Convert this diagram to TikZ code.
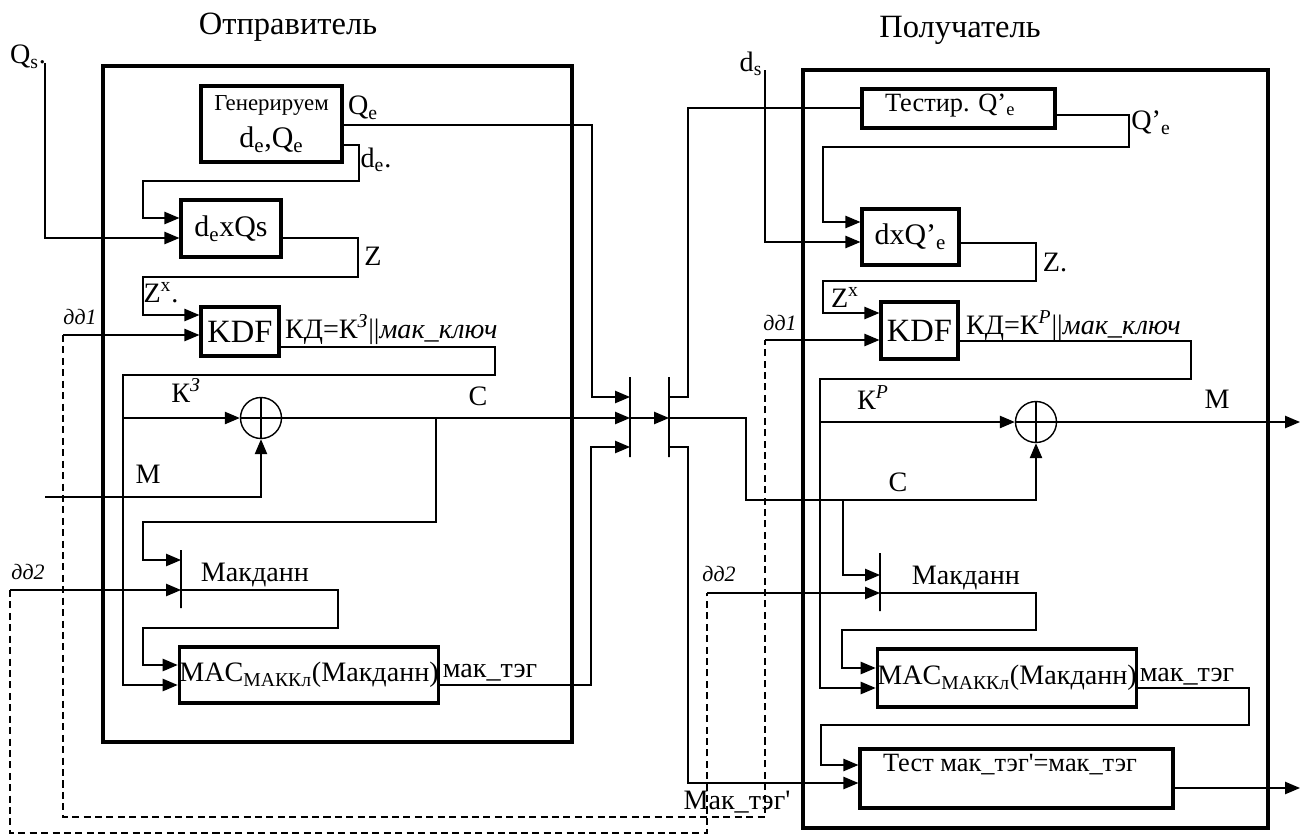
\documentclass[tikz,border=0pt]{standalone}
\usepackage{fontspec}
\setmainfont{Liberation Serif}
\usetikzlibrary{arrows.meta,calc}
\newcommand\fsb{\fontsize{17}{20}\selectfont}
\newcommand\fsl{\fontsize{16}{19}\selectfont}
\newcommand\fst{\fontsize{18.5}{22}\selectfont}
\tikzset{blk/.style={draw,line width=1.8pt,inner sep=0pt,font=\fsb},
 kd/.style={font=\fontsize{18.5}{22}\selectfont},mac/.style={font=\fsl},tx/.style={font=\fontsize{15}{18}\selectfont},
 it/.style={font=\fontsize{12.5}{15}\selectfont\itshape},
 wire/.style={line width=.8pt},arr/.style={wire,-{Triangle[length=8.5pt,width=7pt]}},
 dsh/.style={line width=.8pt,dash pattern=on 4pt off 2.5pt},outer/.style={line width=2pt},
 bar/.style={draw,line width=.9pt,inner sep=0pt,minimum width=0pt,minimum height=16mm},
 xor/.style={circle,draw,line width=.8pt,minimum size=8.2mm,inner sep=0pt,
  path picture={\draw[line width=.8pt] (path picture bounding box.north)--(path picture bounding box.south)
  (path picture bounding box.west)--(path picture bounding box.east);}},
 every node/.style={font=\fsl,inner sep=1pt}}
\begin{document}
\begin{tikzpicture}[x=.2mm,y=-.2mm]
\useasboundingbox (0,0) rectangle (1303,835);
\draw[outer] (103,66) rectangle (572,742);
\draw[outer] (803,70) rectangle (1268,828);
\node (tsnd) at (288,27) {\fst Отправитель};
\node (trcv) at (960,30) {\fst Получатель};
\coordinate (qs) at (45,63);\coordinate (min) at (45,497);\coordinate (dd1) at (63,335);\coordinate (dd2) at (10,590);
\coordinate (ds) at (765,70);\coordinate (dd1r) at (765,340);\coordinate (dd2r) at (707,593);
\coordinate (mout) at (1300,422);\coordinate (vout) at (1300,788);
\node[blk,minimum width=28.2mm,minimum height=15.2mm,align=center] (gen) at (271.5,124) {{\fontsize{13}{15}\selectfont Генерируем}\\[1pt]d\textsubscript{e},Q\textsubscript{e}};
\node[blk,minimum width=20mm,minimum height=11.4mm] (dexq) at (231,228.5) {d\textsubscript{e}xQs};
\node[blk,kd,minimum width=15.6mm,minimum height=9.8mm] (kdfL) at (240,331.5) {KDF};
\node[xor] (xorL) at (261,418) {};
\node[bar,minimum height=11.6mm] (mdL) at (181,579) {};
\node[blk,mac,minimum width=51.2mm,minimum height=11.2mm] (macL) at (309,675) {MAC\textsubscript{МАККл}(Макданн)};
\node[bar] (bar1) at (630,417) {};
\node[bar] (bar2) at (669,417) {};
\node[blk,minimum width=38.6mm,minimum height=7.8mm] (tst) at (958.5,108.5) {};
\node[anchor=west,tx] (tstt) at (883,106) {Тестир. Q’\textsubscript{e}};
\node[blk,minimum width=19.4mm,minimum height=11.2mm] (dxq) at (910.5,237) {dxQ’\textsubscript{e}};
\node[blk,kd,minimum width=15.4mm,minimum height=11.4mm] (kdfR) at (919.5,330.5) {KDF};
\node[xor] (xorR) at (1036,422) {};
\node[bar,minimum height=11.6mm] (mdR) at (880,582) {};
\node[blk,mac,minimum width=50.8mm,minimum height=11.6mm] (macR) at (1007,678) {MAC\textsubscript{МАККл}(Макданн)};
\node[blk,minimum width=62.6mm,minimum height=11.8mm] (tmt) at (1016.5,778.5) {};
\node[anchor=west,tx] (tmtt) at (881,765) {Тест мак\_тэг\textquotesingle=мак\_тэг};
\draw[arr] (qs) |- (dexq.west |- 0,238);
\draw[arr] (gen.east |- 0,125) -- (592,125) -- (592,397) -- (bar1 |- 0,397);
\draw[arr] (gen.east |- 0,145) -- (359,145) -- (359,181) -- (143,181) -- (143,218) -- (dexq.west |- 0,218);
\draw[arr] (dexq.east |- 0,238) -- (358,238) -- (358,277) -- (143,277) -- (143,315) -- (kdfL.west |- 0,315);
\draw[arr] (dd1) -- (kdfL.west |- 0,335);
\draw[arr] (kdfL.east |- 0,347) -- (495,347) -- (495,375) -- (123,375) -- (123,685) -- (macL.west |- 0,685);
\draw[arr] (123,418) -- (xorL.west);
\draw[arr] (min) -| (xorL.south);
\draw[arr] (xorL.east) -- (bar1 |- 0,418);
\draw[arr] (436,418) -- (436,522) -- (143,522) -- (143,560) -- (mdL |- 0,560);
\draw[arr] (dd2) -- (mdL |- 0,590);
\draw[arr] (mdL |- 0,590) -- (338,590) -- (338,628) -- (143,628) -- (143,665) -- (macL.west |- 0,665);
\draw[arr] (macL.east |- 0,685) -- (591,685) -- (591,447) -- (bar1 |- 0,447);
\draw[arr] (bar1 |- 0,418) -- (bar2 |- 0,418);
\draw[wire] (bar2 |- 0,397) -- (688,397) -- (688,108) -- (tst.west |- 0,108);
\draw[arr] (bar2 |- 0,418) -- (746,418) -- (746,500) -| (xorR.south);
\draw[arr] (bar2 |- 0,447) -- (688,447) -- (688,783) -- (tmt.west |- 0,783);
\draw[arr] (ds) |- (dxq.west |- 0,242);
\draw[arr] (tst.east |- 0,115) -- (1129,115) -- (1129,147) -- (823,147) -- (823,222) -- (dxq.west |- 0,222);
\draw[arr] (dxq.east |- 0,243) -- (1036,243) -- (1036,281) -- (823,281) -- (823,313) -- (kdfR.west |- 0,313);
\draw[arr] (dd1r) -- (kdfR.west |- 0,340);
\draw[arr] (kdfR.east |- 0,341) -- (1191,341) -- (1191,379) -- (820,379) -- (820,688) -- (macR.west |- 0,688);
\draw[arr] (820,422) -- (xorR.west);
\draw[arr] (xorR.east) -- (mout);
\draw[arr] (843,500) -- (843,575) -- (mdR |- 0,575);
\draw[arr] (dd2r) -- (mdR |- 0,593);
\draw[arr] (mdR |- 0,593) -- (1036,593) -- (1036,630) -- (842,630) -- (842,668) -- (macR.west |- 0,668);
\draw[arr] (macR.east |- 0,688) -- (1249,688) -- (1249,725) -- (821,725) -- (821,765) -- (tmt.west |- 0,765);
\draw[arr] (tmt.east |- 0,788) -- (vout);
\draw[dsh] (dd1) -- (63,817) -- (765,817) -- (dd1r);
\draw[dsh] (dd2) -- (10,833) -- (707,833) -- (dd2r);
\node (lqs) at (28,57) {Q\textsubscript{s}.};
\node (lqe) at (363,108) {Q\textsubscript{e}};
\node (lde) at (376,160) {d\textsubscript{e}.};
\node (lz) at (373,256) {Z};
\node (lzx) at (161,293) {Z\textsuperscript{x}.};
\node[it] (ldd1) at (80,317) {дд1};
\node[anchor=west] (lkd) at (283,330) {КД=К\textsuperscript{\itshape З}||\textit{мак\_ключ}};
\node (lk3) at (186,390) {К\textsuperscript{\itshape З}};
\node (lc) at (478,396) {C};
\node (lm) at (148,474) {M};
\node[it] (ldd2) at (28,572) {дд2};
\node (lmd) at (255,575) {Макданн};
\node (lmt) at (490,673) {мак\_тэг};
\node (lds) at (751,64) {d\textsubscript{s}};
\node (lqe2) at (1151,123) {Q’\textsubscript{e}};
\node (lz2) at (1055,262) {Z.};
\node (lzx2) at (845,297) {Z\textsuperscript{x}};
\node[it] (ldd1r) at (780,323) {дд1};
\node[anchor=west] (lkd2) at (964,326) {КД=К\textsuperscript{\itshape Р}||\textit{мак\_ключ}};
\node (lkp) at (873,398) {К\textsuperscript{\itshape Р}};
\node (lm2) at (1217,399) {M};
\node (lc2) at (898,482) {C};
\node[it] (ldd2r) at (719,574) {дд2};
\node (lmd2) at (966,578) {Макданн};
\node (lmt2) at (1187,677) {мак\_тэг};
\node (lmt3) at (737,802) {Мак\_тэг\textquotesingle};
\end{tikzpicture}
\end{document}
